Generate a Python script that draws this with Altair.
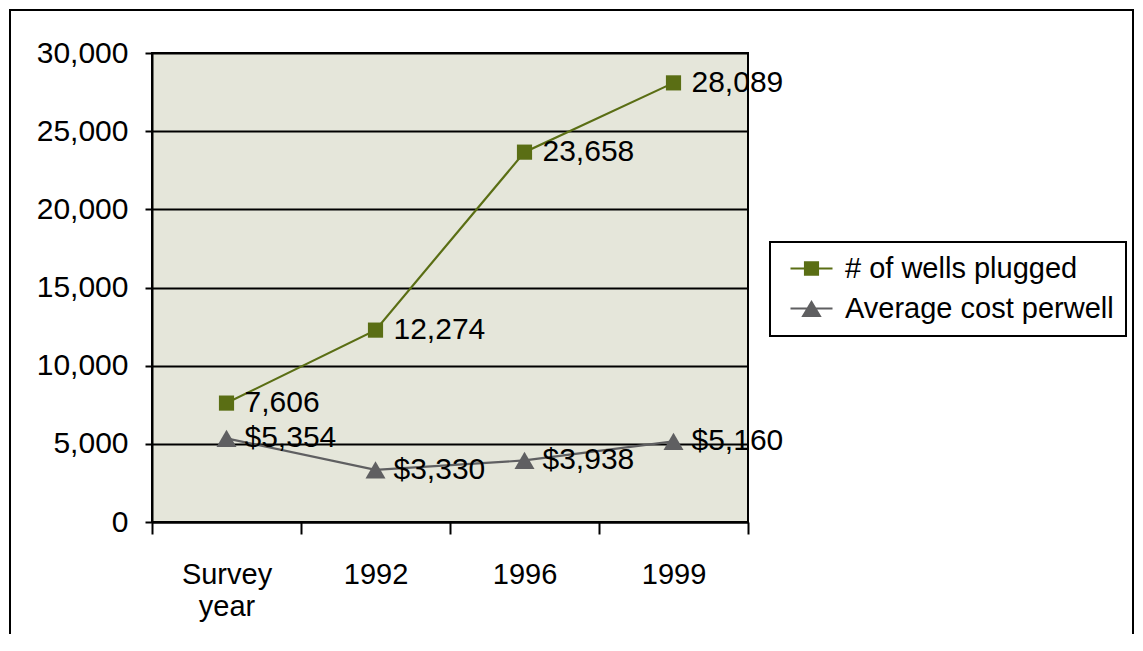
import altair as alt
import pandas as pd

categories = ["Survey year", "1992", "1996", "1999"]
wells_plugged = [7606, 12274, 23658, 28089]
avg_cost = [5354, 3330, 3938, 5160]
series_names = ["# of wells plugged", "Average cost perwell"]
series_colors = ["#5A6E14", "#5F5F61"]
y_ticks = [0, 5000, 10000, 15000, 20000, 25000, 30000]

rows = []
for c, v in zip(categories, wells_plugged):
    rows.append({"cat": c, "series": series_names[0], "value": v, "label": f"{v:,}"})
for c, v in zip(categories, avg_cost):
    rows.append({"cat": c, "series": series_names[1], "value": v, "label": f"${v:,}"})
df = pd.DataFrame(rows)

FONT = "Liberation Sans"

x_enc = alt.X("cat:N", sort=categories,
              scale=alt.Scale(paddingInner=0, paddingOuter=0),
              axis=alt.Axis(title=None, labelAngle=0, labelFontSize=29, labelFont=FONT,
                            labelColor="black", labelExpr="split(datum.label, ' ')",
                            labelLineHeight=32, labelBaseline="top",
                            tickBand="extent", tickSize=12, tickColor="black", tickWidth=2,
                            domainColor="black", domainWidth=2, labelPadding=26,
                            grid=False))
y_enc = alt.Y("value:Q", scale=alt.Scale(domain=[0, 30000], nice=False),
              axis=alt.Axis(title=None, values=y_ticks, format=",.0f", labelFontSize=30,
                            labelFont=FONT, labelColor="black", tickSize=7,
                            tickColor="black", tickWidth=2, domainColor="black",
                            domainWidth=2, labelPadding=17, grid=True,
                            gridColor="black", gridWidth=2, gridOpacity=1))

color_scale = alt.Scale(domain=series_names, range=series_colors)

# legend symbols: a short line with the marker on it
sq = "M-0.5,-0.09H3V0.09H-0.5Z M0.62,-0.6H1.88V0.6H0.62Z"
tri = "M-0.5,-0.09H3V0.09H-0.5Z M1.25,-0.7L2.1,0.7H0.4Z"

legend = alt.Legend(
    title=None, orient="none", legendX=618, legendY=189,
    labelFont=FONT, labelFontSize=29, labelColor="black", labelLimit=500,
    symbolSize=576, labelOffset=34, padding=12, rowPadding=10,
    strokeColor="black", symbolOpacity=1, symbolStrokeWidth=0,
)

base = alt.Chart(df)


def series_layers(name, color, shape, size):
    sub = base.transform_filter(alt.datum.series == name)
    line = sub.mark_line(strokeWidth=2.2, color=color).encode(x=x_enc, y=y_enc)
    pts = sub.mark_point(filled=True, opacity=1, shape=shape, size=size, color=color).encode(
        x=x_enc, y=y_enc)
    return [line, pts]


layers_w = series_layers(series_names[0], series_colors[0], "square", 230)
layers_c = series_layers(series_names[1], series_colors[1], "triangle-up", 400)

legend_layer = base.transform_filter("false").mark_point(filled=True, opacity=1).encode(
    x=x_enc, y=y_enc,
    color=alt.Color("series:N", scale=color_scale, legend=legend),
    shape=alt.Shape("series:N", scale=alt.Scale(domain=series_names, range=[sq, tri]), legend=legend),
)

texts = base.mark_text(align="left", baseline="middle", dx=18, fontSize=30, font=FONT, color="black").encode(
    x=x_enc, y=y_enc, text="label:N",
)

frame = alt.Chart(pd.DataFrame({"k": [0]})).mark_rect(fill=None, stroke="black", strokeWidth=2).encode(
    x=alt.value(-142), x2=alt.value(981), y=alt.value(-43), y2=alt.value(640)
)

chart = alt.layer(frame, *layers_w, *layers_c, legend_layer, texts).properties(
    width=596, height=469,
    padding={"left": 144, "top": 45, "right": 387, "bottom": 112},
    autosize=alt.AutoSizeParams(type="none"),
).configure(font=FONT).configure_view(
    fill="#E5E6DA", stroke="black", strokeWidth=2
).configure_legend(strokeWidth=2)

chart.save("out.html", embed_options={"renderer": "svg", "actions": False})
